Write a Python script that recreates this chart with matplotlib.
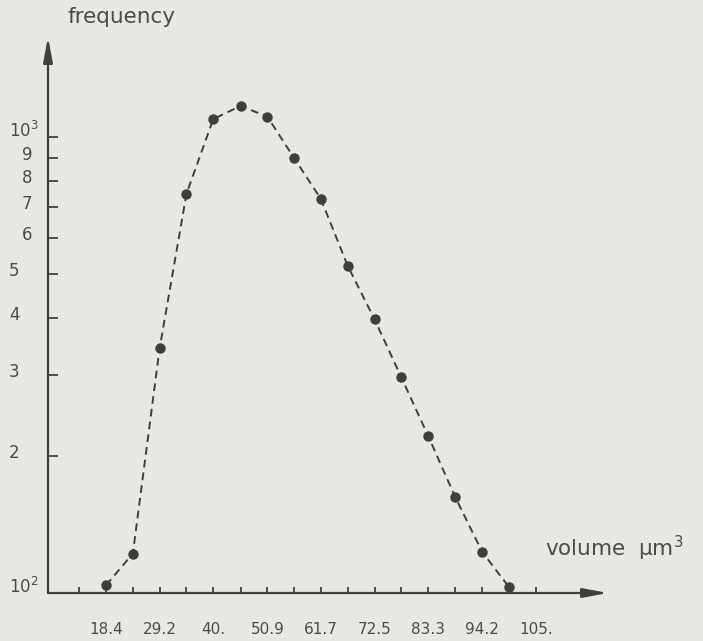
import matplotlib.pyplot as plt
from matplotlib.ticker import NullLocator
from matplotlib.transforms import ScaledTranslation

# volume (um^3) and frequency
volume = [18.4, 23.8, 29.2, 34.6, 40.0, 45.5, 50.9, 56.3, 61.7, 67.1, 72.5, 77.9, 83.3, 88.8, 94.2, 99.6]
frequency = [104, 122, 344, 749, 1093, 1168, 1107, 898, 730, 521, 398, 297, 221, 162, 123, 103]

x_major = [18.4, 29.2, 40.0, 50.9, 61.7, 72.5, 83.3, 94.2, 105.0]
x_labels = ['18.4', '29.2', '40.', '50.9', '61.7', '72.5', '83.3', '94.2', '105.']
x_minor = [13.0, 23.8, 34.6, 45.5, 56.3, 67.1, 77.9, 88.8, 99.6]

y_ticks = [100, 200, 300, 400, 500, 600, 700, 800, 900, 1000]
y_labels = [r'$\mathregular{10^2}$', '2', '3', '4', '5', '6', '7', '8', '9', r'$\mathregular{10^3}$']

paper = '#e7e7e4'
ink = '#3e3e3e'
text_c = '#4a4a4a'

fig = plt.figure(figsize=(7.03, 6.41), dpi=100, facecolor=paper)
ax = fig.add_axes([48 / 703, 48 / 641, 560 / 703, 556 / 641])
ax.set_facecolor('none')
ax.set_yscale('log')
ax.set_xlim(6.7, 119.55)
ax.set_ylim(100, 1654)

ax.plot(volume, frequency, color=ink, lw=1.4, dashes=(4, 2.6),
        marker='o', ms=6.5, clip_on=False, zorder=3)

for s in ax.spines.values():
    s.set_visible(False)

# axes drawn as arrows
arrow = dict(arrowstyle='-|>,head_length=1.5,head_width=0.28', color=ink,
             lw=1.6, shrinkA=0, shrinkB=0, mutation_scale=10)
ax.annotate('', xy=(1, 0), xytext=(0, 0), xycoords='axes fraction', arrowprops=arrow)
ax.annotate('', xy=(0, 1), xytext=(0, 0), xycoords='axes fraction', arrowprops=arrow)

ax.set_xticks(x_major, x_labels)
ax.set_xticks(x_minor, minor=True)
ax.tick_params(axis='x', which='both', direction='in', length=4, width=1.3,
               color=ink, pad=21, labelsize=11, labelcolor=text_c)

ax.set_yticks(y_ticks, y_labels)
ax.yaxis.set_minor_locator(NullLocator())
ax.tick_params(axis='y', direction='in', length=7, width=1.3, color=ink,
               pad=28, labelsize=12, labelcolor=text_c)

for lab, val in zip(ax.get_yticklabels(), y_ticks):
    dx = 13 if 600 <= val <= 900 else 0
    dy = -2 if val not in (100, 1000) else 0
    lab.set_ha('left')
    lab.set_va('baseline')
    lab.set_transform(lab.get_transform() +
                      ScaledTranslation(dx / 100, dy / 100, fig.dpi_scale_trans))

fig.text(122 / 703, 1 - 17 / 641, 'frequency', ha='center', va='center',
         fontsize=15.5, color=text_c)
fig.text(545 / 703, 1 - 556 / 641, 'volume  μm$^3$', ha='left', va='baseline',
         fontsize=15.5, color=text_c)

fig.savefig('out.png', dpi=100, facecolor=paper)
